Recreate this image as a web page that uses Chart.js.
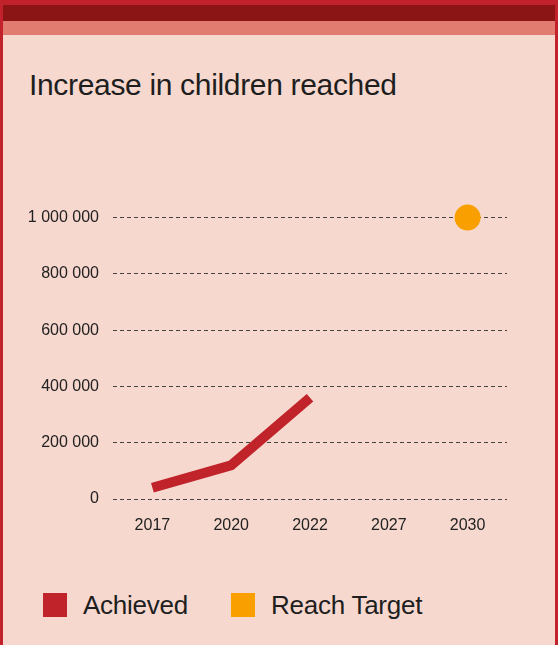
<!DOCTYPE html>
<html>
<head>
<meta charset="utf-8">
<script src="https://cdn.jsdelivr.net/npm/chart.js@4"></script>
<style>
  html, body { margin: 0; padding: 0; }
  body { width: 558px; height: 645px; overflow: hidden; font-family: "Liberation Sans", Arial, sans-serif; }
  .card { position: absolute; left: 0; top: 0; width: 558px; height: 645px; box-sizing: border-box;
          background: #f6d8ce; border: 3px solid #c1222b; border-top-width: 5px; border-bottom: 0; }
  .bar1 { position: absolute; left: 0; right: 0; top: 0; height: 16px; background: #8b1414; }
  .bar2 { position: absolute; left: 0; right: 0; top: 16px; height: 14px; background: #e07c70; }
  .title { position: absolute; left: 29px; top: 70px; font-size: 30px; line-height: 30px; letter-spacing: -0.33px; color: #1e1e1e; white-space: nowrap; }
  #wrap { position: absolute; left: 0; top: 194px; width: 520px; height: 346px; }
  .legend { position: absolute; top: 593px; left: 0; height: 24px; }
  .item { position: absolute; top: 0; white-space: nowrap; }
  .box { position: absolute; top: 0; width: 24px; height: 24px; }
  .lbl { position: absolute; top: -1px; font-size: 26px; line-height: 26px; letter-spacing: -0.25px; color: #1e1e1e; }
</style>
</head>
<body>
<div class="card">
  <div class="bar1"></div>
  <div class="bar2"></div>
</div>
<div class="title">Increase in children reached</div>
<div id="wrap"><canvas id="myChart"></canvas></div>
<div class="legend" id="legend"></div>

<script>
// years on the x axis
const years = ['2017', '2020', '2022', '2027', '2030'];
// children reached so far
const achieved = [40000, 120000, 360000, null, null];
// target for 2030
const target = [null, null, null, null, 1000000];
// y axis ticks
const yTicks = [0, 200000, 400000, 600000, 800000, 1000000];

const red = '#c1232b';
const orange = '#f99f00';

// 1000000 -> "1 000 000"
function spaced(v) {
  return String(v).replace(/\B(?=(\d{3})+(?!\d))/g, ' ');
}

const myChart = document.getElementById('myChart');

let lineChart = new Chart(myChart, {
  type: 'line',
  data: {
    labels: years,
    datasets: [{
      label: 'Achieved',
      data: achieved,
      borderColor: red,
      backgroundColor: red,
      borderWidth: 10,
      borderCapStyle: 'butt',
      borderJoinStyle: 'miter',
      pointRadius: 0,
      spanGaps: false,
      clip: false
    }, {
      label: 'Reach Target',
      data: target,
      showLine: false,
      backgroundColor: orange,
      borderColor: orange,
      pointRadius: 13,
      pointBorderWidth: 0,
      clip: false
    }]
  },
  options: {
    responsive: true,
    maintainAspectRatio: false,
    animation: false,
    layout: { padding: { top: 10, right: 13, left: 0, bottom: 0 } },
    plugins: {
      legend: { display: false },
      tooltip: { enabled: false }
    },
    scales: {
      x: {
        offset: true,
        grid: { display: false, drawTicks: false },
        border: { display: false },
        ticks: { color: '#222', font: { family: 'Liberation Sans', size: 16 }, padding: 17 },
        afterFit: function (scale) { scale.height = 41; }
      },
      y: {
        min: 0,
        max: 1000000,
        afterBuildTicks: function (scale) { scale.ticks = yTicks.map(v => ({ value: v })); },
        grid: { color: '#444', lineWidth: 1, drawTicks: false },
        border: { display: false, dash: [4, 3] },
        ticks: {
          color: '#222',
          font: { family: 'Liberation Sans', size: 16 },
          padding: 14,
          callback: function (v) { return spaced(v); }
        },
        afterFit: function (scale) { scale.width = 113; }
      }
    }
  }
});

// legend built from the datasets
const legend = document.getElementById('legend');
const spots = [{ box: 43, text: 83 }, { box: 231, text: 271 }];
lineChart.data.datasets.forEach((ds, i) => {
  const item = document.createElement('div');
  item.className = 'item';
  item.innerHTML = '<div class="box" style="left:' + spots[i].box + 'px;background:' + ds.backgroundColor + '"></div>' +
    '<div class="lbl" style="left:' + spots[i].text + 'px">' + ds.label + '</div>';
  legend.appendChild(item);
});
</script>
</body>
</html>
